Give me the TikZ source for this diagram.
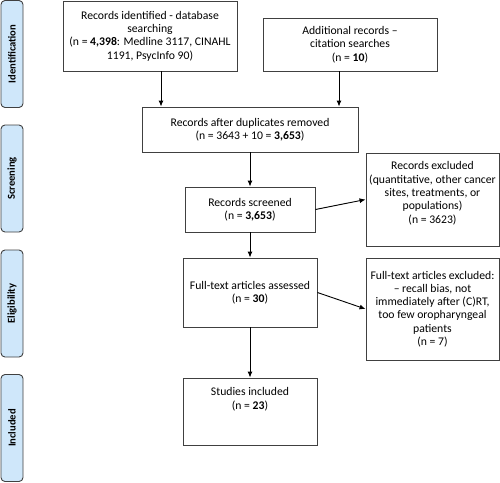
\documentclass[tikz,border=0pt]{standalone}
\usepackage{fontspec}
\setmainfont{Carlito}
\usetikzlibrary{arrows.meta}

\definecolor{phasefill}{RGB}{207,231,250}
\definecolor{boxline}{RGB}{64,64,64}

\begin{document}
\begin{tikzpicture}[x=1pt, y=-1pt,
every node/.style={font=\fontsize{11.7}{13.3}\selectfont, align=center, inner sep=2pt},
box/.style={draw=boxline, line width=0.9pt, rectangle},
phase/.style={draw=boxline, fill=phasefill, line width=0.9pt, rounded corners=4pt,
    rotate=90, minimum width=107pt, minimum height=22pt, font=\fontsize{10.6}{12}\selectfont\bfseries},
arr/.style={line width=0.9pt, -{Latex[length=6pt,width=5pt]}}
]
\useasboundingbox (0,0) rectangle (500,482);

% phases
\node[phase] (id)  at (12,54)    {Identification};
\node[phase] (scr) at (12,178.5) {Screening};
\node[phase] (eli) at (12,303.5) {Eligibility};
\node[phase] (inc) at (12,428)   {Included};

% boxes
\node[box, minimum width=174pt, minimum height=70pt] (A) at (150,36)
    {Records identified - database\\searching\\(n = \textbf{4,398}: Medline 3117, CINAHL\\1191, PsycInfo 90)};
\node[box, minimum width=174pt, minimum height=53pt] (B) at (350,44.5)
    {Additional records –\\citation searches\\(n = \textbf{10})};
\node[box, minimum width=216pt, minimum height=45pt] (C) at (250,129.5)
    {Records after duplicates removed\\(n = 3643 + 10 = \textbf{3,653})};
\node[box, minimum width=130pt, minimum height=45pt] (D) at (250,209.5)
    {Records screened\\(n = \textbf{3,653})};
\node[box, minimum width=133pt, minimum height=93pt, text depth=14pt] (E) at (432.5,199.5)
    {Records excluded\\(quantitative, other cancer\\sites, treatments, or\\populations)\\(n = 3623)};
\node[box, minimum width=134pt, minimum height=69pt] (F) at (250,292.5)
    {Full-text articles assessed\\(n = \textbf{30})};
\node[box, minimum width=133pt, minimum height=102pt] (G) at (432.5,309)
    {Full-text articles excluded:\\– recall bias, not\\immediately after (C)RT,\\too few oropharyngeal\\patients\\(n = 7)};
\node[box, minimum width=134pt, minimum height=67pt, text depth=26pt] (H) at (250,411.5)
    {Studies included\\(n = \textbf{23})};

\draw[arr] ([xshift=11pt]A.south) -- ([xshift=11pt]A.south |- C.north);
\draw[arr] ([xshift=-11pt]B.south) -- ([xshift=-11pt]B.south |- C.north);
\foreach \i/\j in {C.south/D.north, D.south/F.north, F.south/H.north,%
                   D.east/E.west, F.east/G.west}
    \draw[arr] (\i) -- (\j);
\end{tikzpicture}
\end{document}
